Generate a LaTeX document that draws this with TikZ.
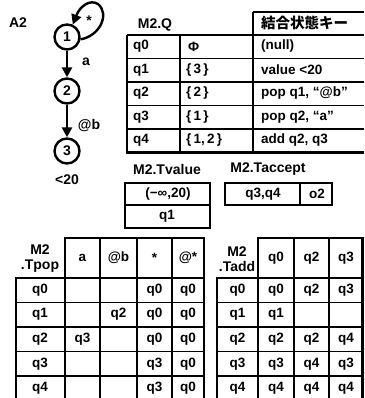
\documentclass[tikz,border=0pt]{standalone}
\usepackage{fontspec}
\setmainfont{Liberation Sans}
\newfontfamily\cjk{Noto Sans CJK JP}
\usetikzlibrary{arrows.meta}
\begin{document}
\begin{tikzpicture}[x=1pt,y=-1pt,
  txt/.style={font=\bfseries\fontsize{13.5}{14}\selectfont, inner sep=0pt},
  lbl/.style={font=\bfseries\fontsize{14}{15}\selectfont, inner sep=0pt},
  ltxt/.style={txt, anchor=west},
  grid/.style={line width=1.6pt},
  outer/.style={line width=2.2pt},
  st/.style={circle, draw, line width=2.4pt, minimum size=25pt, inner sep=0pt, font=\bfseries\fontsize{14}{15}\selectfont},
  edge/.style={line width=2.4pt, -{Triangle[length=10pt,width=10pt]}}]
\useasboundingbox (0,0) rectangle (364,398);
\clip (0,0) rectangle (364,398);
% automaton
\node[lbl] (title) at (18,23) {A2};
\node[st] (s1) at (67,37) {1};
\node[st] (s2) at (67,91) {2};
\node[st] (s3) at (67,151) {3};
\draw[edge] (s1) -- (s2);
\draw[edge] (s2) -- (s3);
\draw[edge] (s1.-10) .. controls (100,36) and (110,14) .. (98,4) .. controls (90,-1) and (80,6) .. (s1.65);
\node[lbl] (lstar) at (89,21) {*};
\node[lbl] (la) at (86,62) {a};
\node[lbl] (lb) at (89,126) {@b};
\node[lbl] (lt) at (67,180) {<20};
% M2.Q
\node[lbl] (qlab) at (155,25) {M2.Q};
\draw[outer] (253,12) -- (364,12);
\draw[outer] (127,35) -- (364,35);
\draw[outer] (127,35) -- (127,152.5) -- (364,152.5);
\foreach \y in {58.5,82,105.5,129} \draw[grid] (127,\y) -- (364,\y);
\draw[grid] (180,35) -- (180,152.5);
\draw[outer] (253,12) -- (253,152.5);
\node[font=\cjk\bfseries\fontsize{14.5}{15}\selectfont, inner sep=0pt, anchor=west] (qh) at (261,23) {結合状態キー};
\node[ltxt] (q0) at (133,46.5) {q0};
\node[ltxt] (q1) at (133,70) {q1};
\node[ltxt] (q2) at (133,93.5) {q2};
\node[ltxt] (q3) at (133,117) {q3};
\node[ltxt] (q4) at (133,140.5) {q4};
\node[ltxt] (s0v) at (188,46.5) {Φ};
\node[ltxt] (s1v) at (186,70) {\{\,3\,\}};
\node[ltxt] (s2v) at (186,93.5) {\{\,2\,\}};
\node[ltxt] (s3v) at (186,117) {\{\,1\,\}};
\node[ltxt] (s4v) at (186,140.5) {\{\,1,\,2\,\}};
\node[ltxt] (k0) at (261,46.5) {(null)};
\node[ltxt] (k1) at (261,70) {value <20};
\node[ltxt] (k2) at (261,93.5) {pop q1, “@b”};
\node[ltxt] (k3) at (261,117) {pop q2, “a”};
\node[ltxt] (k4) at (261,140.5) {add q2, q3};
% Tvalue
\node[lbl] (tvlab) at (167,169) {M2.Tvalue};
\draw[outer] (125,183) rectangle (210,228);
\draw[grid] (125,205) -- (210,205);
\node[txt] (tv1) at (168,194) {(−∞,20)};
\node[txt] (tv2) at (167,216.5) {q1};
% Taccept
\node[lbl] (talab) at (268,169) {M2.Taccept};
\draw[outer] (225,183) rectangle (332,205);
\draw[grid] (300,183) -- (300,205);
\node[txt] (ta1) at (263,194) {q3,q4};
\node[txt] (ta2) at (317,194) {o2};
% Tpop
\node[lbl, align=center] (tplab) at (40,259) {M2\\.Tpop};
\draw[outer] (65,278) -- (65,238) -- (204,238) -- (204,400);
\draw[outer] (16,400) -- (16,278) -- (204,278);
\foreach \x in {100,137,172} \draw[grid] (\x,238) -- (\x,400);
\draw[outer] (65,278) -- (65,400);
\foreach \y in {302.5,327,351.5,376} \draw[grid] (16,\y) -- (204,\y);
\foreach \t/\x in {a/82.5,@b/118.5,*/154.5,@*/188} \node[txt] at (\x,258) {\t};
\foreach \r/\y in {q0/290,q1/314.5,q2/339,q3/364,q4/388} \node[txt] at (40,\y) {\r};
\node[txt] at (154.5,290) {q0}; \node[txt] at (188,290) {q0};
\node[txt] at (118.5,314.5) {q2}; \node[txt] at (154.5,314.5) {q0}; \node[txt] at (188,314.5) {q0};
\node[txt] at (82.5,339) {q3}; \node[txt] at (154.5,339) {q0}; \node[txt] at (188,339) {q0};
\node[txt] at (154.5,364) {q3}; \node[txt] at (188,364) {q0};
\node[txt] at (154.5,388) {q3}; \node[txt] at (188,388) {q0};
% Tadd
\node[lbl, align=center] (talab2) at (237,259) {M2\\.Tadd};
\draw[outer] (258,278) -- (258,238) -- (364,238);
\draw[outer] (217,400) -- (217,278) -- (364,278);
\foreach \x in {294,329} \draw[grid] (\x,238) -- (\x,400);
\draw[outer] (362.5,238) -- (362.5,400);
\draw[outer] (258,278) -- (258,400);
\foreach \y in {302.5,327,351.5,376} \draw[grid] (217,\y) -- (364,\y);
\foreach \t/\x in {q0/276,q2/311.5,q3/346} \node[txt] at (\x,258) {\t};
\foreach \r/\y in {q0/290,q1/314.5,q2/339,q3/364,q4/388} \node[txt] at (237.5,\y) {\r};
\node[txt] at (276,290) {q0}; \node[txt] at (311.5,290) {q2}; \node[txt] at (346,290) {q3};
\node[txt] at (276,314.5) {q1};
\node[txt] at (276,339) {q2}; \node[txt] at (311.5,339) {q2}; \node[txt] at (346,339) {q4};
\node[txt] at (276,364) {q3}; \node[txt] at (311.5,364) {q4}; \node[txt] at (346,364) {q3};
\node[txt] at (276,388) {q4}; \node[txt] at (311.5,388) {q4}; \node[txt] at (346,388) {q4};
\end{tikzpicture}
\end{document}
